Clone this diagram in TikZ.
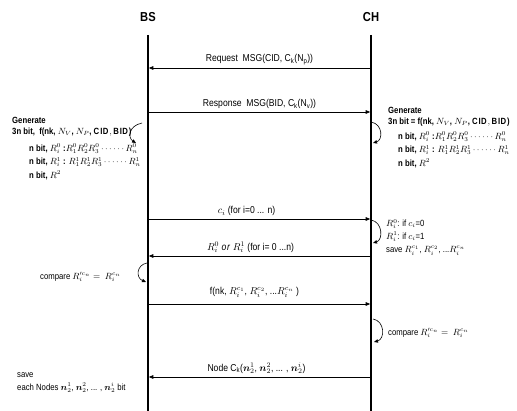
\documentclass[tikz,border=0pt]{standalone}
\usepackage{amsmath,amssymb,bm}
\usepackage{fontspec}
\setmainfont{Liberation Sans}[FakeStretch=0.86]
\usetikzlibrary{arrows.meta,positioning}

\begin{document}
\begin{tikzpicture}[x=1pt,y=-1pt,
  lifeline/.style={line width=1.8pt},
  msg/.style={line width=0.7pt,shorten >=0.8pt,-{Triangle[length=4.5pt,width=3.6pt]}},
  selfloop/.style={line width=0.6pt,-{Triangle[length=4pt,width=3.4pt]}},
  msglabel/.style={midway,above=3pt,inner sep=0pt,font=\fontsize{10}{12}\selectfont},
  note/.style={align=left,inner sep=0pt,font=\fontsize{9}{11.5}\selectfont}]
  \useasboundingbox (0,0) rectangle (517,411); % 図全体の範囲
  \node[font=\fontsize{13}{15}\selectfont\bfseries] (bs) at (148,17) {BS}; % 基地局の見出し
  \node[font=\fontsize{13}{15}\selectfont\bfseries] (ch) at (371,17) {CH}; % クラスタヘッドの見出し
  \coordinate (bsTop) at (148,35); \coordinate (bsBot) at (148,411); % BSの線の両端
  \coordinate (chTop) at (371,35); \coordinate (chBot) at (371,411); % CHの線の両端
  \draw[lifeline] (bsTop) -- (bsBot); % BSの縦線
  \draw[lifeline] (chTop) -- (chBot); % CHの縦線

  \coordinate (bs1) at (148,68);  \coordinate (ch1) at (371,68);  % 要求メッセージの高さ
  \coordinate (bs2) at (148,112); \coordinate (ch2) at (371,112); % 応答メッセージの高さ
  \coordinate (bs3) at (148,219); \coordinate (ch3) at (371,219); % c_iの高さ
  \coordinate (bs4) at (148,256); \coordinate (ch4) at (371,256); % R_iの高さ
  \coordinate (bs5) at (148,304); \coordinate (ch5) at (371,304); % f(nk,...)の高さ
  \coordinate (bs6) at (148,377); \coordinate (ch6) at (371,377); % Node C_kの高さ
  \draw[msg] (ch1) -- node[msglabel] {Request\ \ MSG(CID,\ C\textsubscript{k}(N\textsubscript{p}))} (bs1); % CHからBSへの要求
  \draw[msg] (bs2) -- node[msglabel] {Response\ \ MSG(BID,\ C\textsubscript{k}(N\textsubscript{v}))} (ch2); % BSからCHへの応答
  \draw[msg] (bs3) -- node[msglabel,xshift=-13pt] {$c_i$ (for i=0 ... n)} (ch3); % チャレンジc_iの送信
  \draw[msg] (ch4) -- node[msglabel,xshift=-9pt] {$R_i^0\ \mathit{or}\ R_i^1$ (for i= 0 ...n)} (bs4); % 応答ビットの返信
  \draw[msg] (bs5) -- node[msglabel,above=6pt,xshift=-5pt] {f(nk, $R_i^{c_1}$, $R_i^{c_2}$, ...$R_i^{c_n}$ )} (ch5); % 検証値の送信
  \draw[msg] (ch6) -- node[msglabel,xshift=-3pt] {Node C\textsubscript{k}($\bm{n}_2^1$, $\bm{n}_2^2$, ... , $\bm{n}_2^i$)} (bs6); % ノード情報の送信

  \coordinate (lpL1a) at (142,123); \coordinate (lpL1b) at (136,143); % BS側1つ目の自己ループの端
  \coordinate (lpR1a) at (371,122); \coordinate (lpR1b) at (373,143); % CH側1つ目の自己ループの端
  \coordinate (lpR2a) at (371,220); \coordinate (lpR2b) at (373,243); % CH側2つ目の自己ループの端
  \coordinate (lpL2a) at (147,263); \coordinate (lpL2b) at (146,282); % BS側2つ目の自己ループの端
  \coordinate (lpR3a) at (373,319); \coordinate (lpR3b) at (374,342); % CH側3つ目の自己ループの端
  \draw[selfloop] (lpL1a) .. controls (128,126) and (128,138) .. (lpL1b); % BSでのビット生成
  \draw[selfloop] (lpR1a) .. controls (383,124) and (383,140) .. (lpR1b); % CHでのビット生成
  \draw[selfloop] (lpR2a) .. controls (383,222) and (383,240) .. (lpR2b); % CHでの応答選択
  \draw[selfloop] (lpL2a) .. controls (136,265) and (136,278) .. (lpL2b); % BSでの比較
  \draw[selfloop] (lpR3a) .. controls (385,321) and (385,339) .. (lpR3b); % CHでの比較

  \node[note,anchor=north west,font=\fontsize{9}{11.5}\selectfont\bfseries] (genL) at (12,117)
    {Generate\\
     3n bit,\ \ f(nk, $N_V$, $N_P$, $\mathbf{CID}, \mathbf{BID}$)\\[5pt]
     \hspace*{17pt}n bit, $R_i^0$ :$R_1^0R_2^0R_3^0\cdots\cdots R_n^0$\\[2pt]
     \hspace*{17pt}n bit,\ $R_i^1$ : $R_1^1R_2^1R_3^1\cdots\cdots R_n^1$\\[2pt]
     \hspace*{17pt}n bit, $R^2$}; % BS側の生成の説明
  \node[note,anchor=north west,font=\fontsize{9}{11.5}\selectfont\bfseries] (genR) at (388,107)
    {Generate\\
     3n bit = f(nk, $N_V$, $N_P$, $\mathbf{CID}, \mathbf{BID}$)\\[3pt]
     \hspace*{10pt}n bit, $R_i^0$ :$R_1^0R_2^0R_3^0\cdots\cdots R_n^0$\\[2pt]
     \hspace*{10pt}n bit, $R_i^1$ : $R_1^1R_2^1R_3^1\cdots\cdots R_n^1$\\[2pt]
     \hspace*{10pt}n bit, $R^2$}; % CH側の生成の説明
  \node[note,anchor=north west] (condR) at (386,219)
    {$R_i^0$: if $c_i$=0\\[1pt]
     $R_i^1$: if $c_i$=1\\[2pt]
     save $R_i^{c_1}$, $R_i^{c_2}$, ...$R_i^{c_n}$}; % CH側の応答の選び方
  \node[note,anchor=west] (cmpL) at (40,277) {compare $R_i^{\prime c_n} =\ R_i^{c_n}$}; % BS側の比較
  \node[note,anchor=west] (cmpR) at (388,333) {compare $R_i^{\prime c_n} =\ R_i^{c_n}$}; % CH側の比較
  \node[note,anchor=north west] (saveL) at (17,372)
    {save\\[2pt]
     each Nodes $\bm{n}_2^1$, $\bm{n}_2^2$, ... , $\bm{n}_2^i$ bit}; % BS側の保存
\end{tikzpicture}
\end{document}
